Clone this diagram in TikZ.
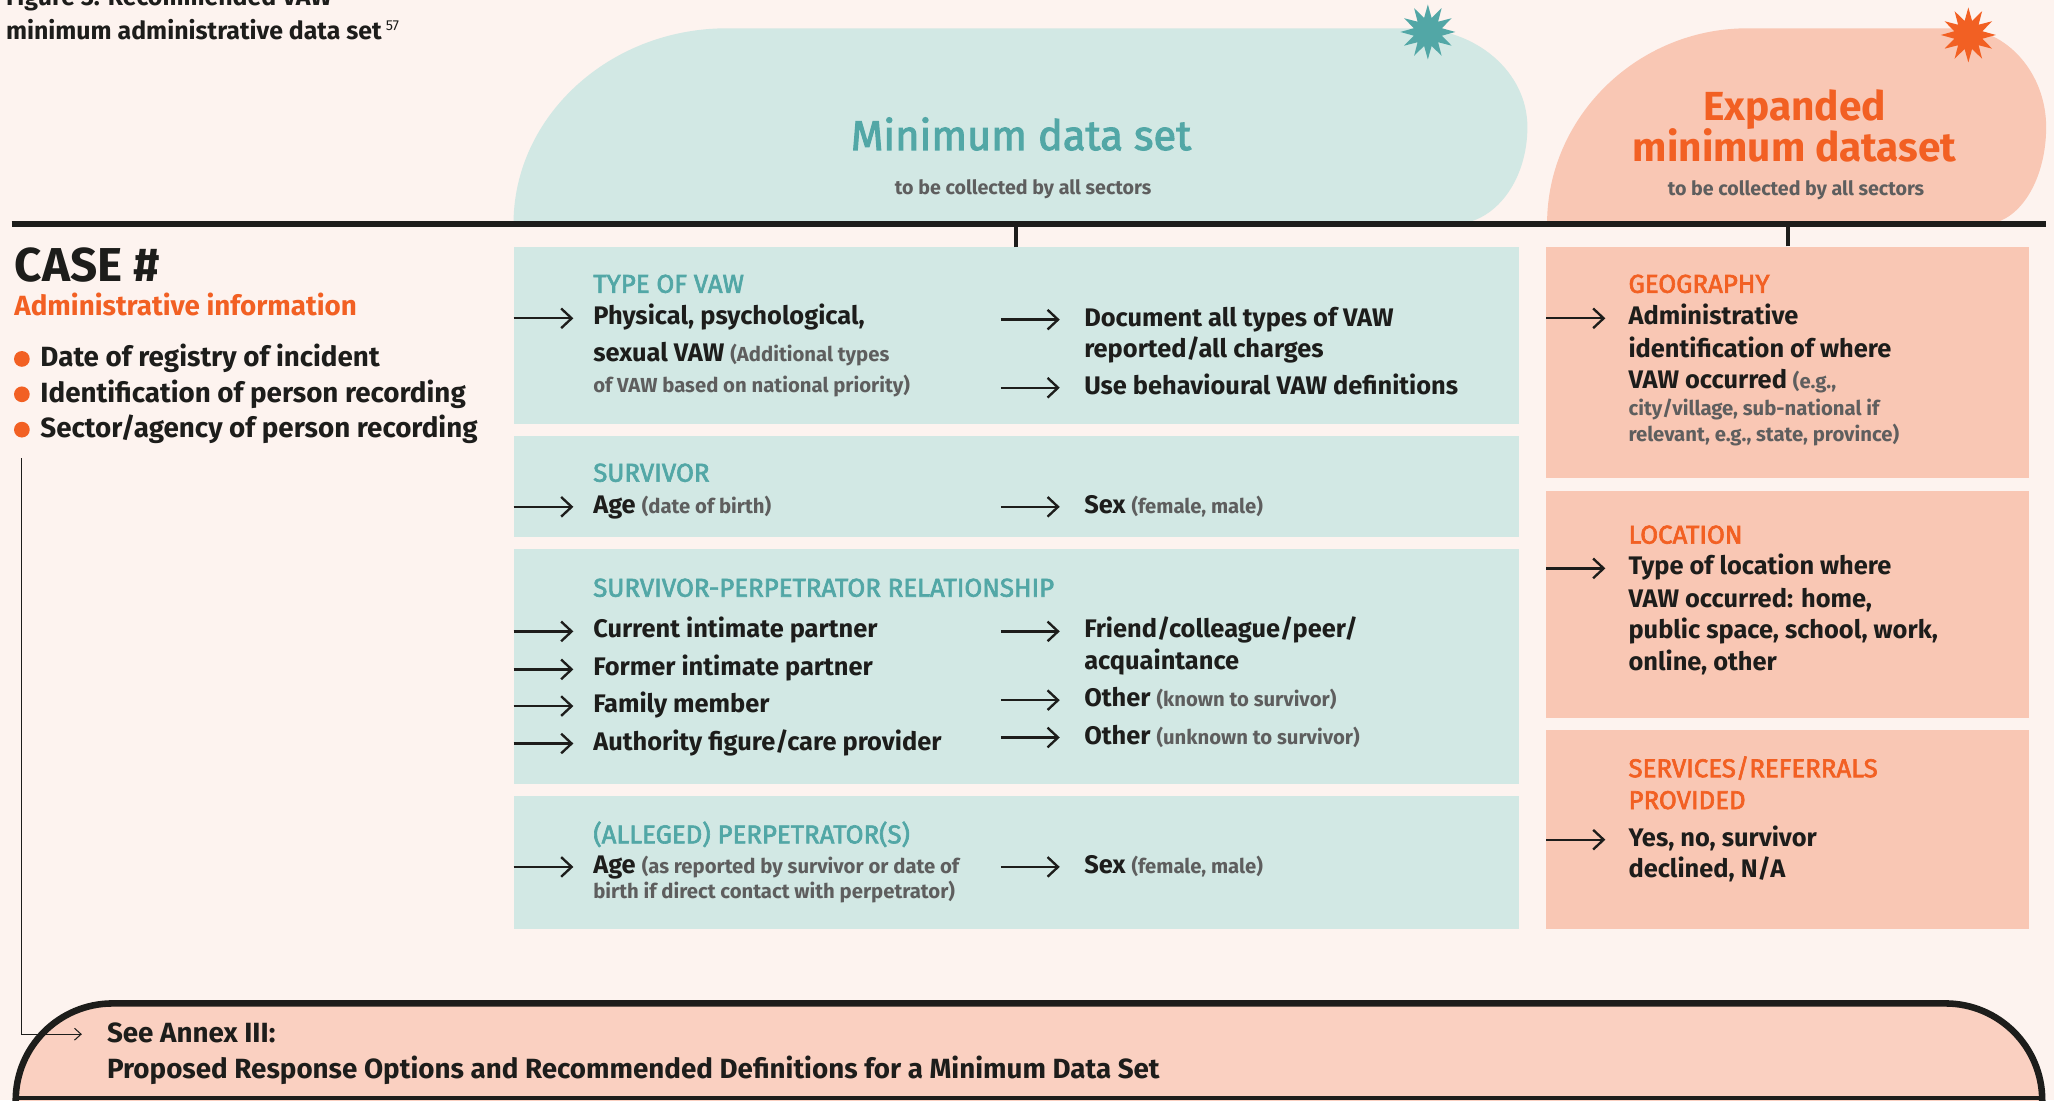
\documentclass[tikz,border=0pt]{standalone}
\usepackage{fontspec}
\setmainfont{Fira Sans}
\newfontfamily\headfont{Fira Sans}[FakeBold=2.5]
\usetikzlibrary{arrows.meta,shapes.geometric,positioning}

\definecolor{cream}{HTML}{FDF3EF}
\definecolor{tealpale}{HTML}{D2E8E4}
\definecolor{tealink}{HTML}{52A7A6}
\definecolor{salmon}{HTML}{F9C7B4}
\definecolor{annexpink}{HTML}{FAD0C1}
\definecolor{orangeink}{HTML}{F26023}
\definecolor{darkink}{HTML}{1D1D1B}
\definecolor{grayink}{HTML}{5E5E5E}

\newcommand{\aside}[1]{{\color{grayink}\fontsize{15.5}{18}\selectfont #1}}

\tikzstyle{every node}=[inner sep=0pt, anchor=base west, text=darkink]
\tikzstyle{item}=[font=\bfseries\fontsize{19.4}{23}\selectfont]
\tikzstyle{bigitem}=[font=\bfseries\fontsize{21.2}{25}\selectfont]
\tikzstyle{note}=[font=\bfseries\fontsize{15.5}{18}\selectfont, text=grayink]
\tikzstyle{tealhead}=[font=\headfont\fontsize{19.7}{23}\selectfont, text=tealink]
\tikzstyle{orangehead}=[font=\headfont\fontsize{19.7}{23}\selectfont, text=orangeink]
\tikzstyle{tealbox}=[fill=tealpale, anchor=north west, minimum width=767pt]
\tikzstyle{salmonbox}=[fill=salmon, anchor=north west, minimum width=368.7pt]
\tikzstyle{pointer}=[-{Straight Barb[length=8pt,width=15pt]}, line width=1.8pt, darkink]
\tikzstyle{thinpointer}=[-{Straight Barb[length=5pt,width=9pt]}, line width=0.8pt, darkink]
\tikzstyle{tick}=[line width=3pt, draw=darkink]
\tikzstyle{dot}=[circle, fill=orangeink, minimum size=12pt, anchor=center]
\tikzstyle{burst}=[star, star points=12, star point ratio=1.9, minimum size=42pt, anchor=center]

\begin{document}
\begin{tikzpicture}[x=1pt, y=-1pt]
\useasboundingbox (0,0) rectangle (1568,840);
\fill[cream] (0,0) rectangle (1568,840);

\fill[tealpale] (392,171) .. controls (392,89) and (465,21.6) .. (555,21.6) -- (1079,21.6)
  .. controls (1127,21.6) and (1166,55) .. (1166,97) .. controls (1166,138) and (1141,171) .. (1110,171) -- cycle;
\fill[salmon] (1181,171) .. controls (1181,89) and (1250,21.6) .. (1334,21.6) -- (1495,21.6)
  .. controls (1532,21.6) and (1562,56) .. (1562,97) .. controls (1562,138) and (1541,171) .. (1515,171) -- cycle;
\node[burst, fill=tealink] (tealstar) at (1090,24.4) {};
\node[burst, fill=orangeink] (orangestar) at (1502.6,26.7) {};

\node[item, font=\bfseries\fontsize{19}{23}\selectfont] (fig1) at (4.4,4.5) {Figure 3: Recommended VAW};
\node[item, font=\bfseries\fontsize{19}{23}\selectfont] (fig2) at (4.4,30.5) {minimum administrative data set\,{\mdseries\fontsize{11}{11}\selectfont\raisebox{7pt}{57}}};

\node[font=\headfont\fontsize{31.8}{34}\selectfont, text=tealink, anchor=base] (mds) at (779.5,114.5) {Minimum data set};
\node[note, font=\bfseries\fontsize{15}{18}\selectfont, anchor=base] (mdssub) at (781,148.4) {to be collected by all sectors};
\node[font=\bfseries\fontsize{31}{34}\selectfont, text=orangeink, anchor=base] (exp1) at (1370,92) {Expanded};
\node[font=\bfseries\fontsize{31}{34}\selectfont, text=orangeink, anchor=base] (exp2) at (1370,123.4) {minimum dataset};
\node[note, font=\bfseries\fontsize{15}{18}\selectfont, anchor=base] (expsub) at (1371,148.9) {to be collected by all sectors};

\coordinate (ruleL) at (8.8,171);
\coordinate (ruleR) at (1562,171);
\draw[line width=4.5pt, darkink] (ruleL) -- (ruleR);

\node[font=\bfseries\fontsize{36.3}{40}\selectfont] (case) at (11,215) {CASE \#};
\node[bigitem, text=orangeink] (admin) at (10.8,241) {Administrative information};
\node[bigitem] (bul1) at (30.7,280) {Date of registry of incident};
\node[bigitem] (bul2) at (30.7,307) {Identification of person recording};
\node[bigitem] (bul3) at (30.7,334) {Sector/agency of person recording};
\node[dot] (dot1) at (16.7,274) {};
\node[dot] (dot2) at (16.7,301) {};
\node[dot] (dot3) at (16.7,328) {};
\coordinate (caseleg) at (16.6,350);

\node[tealbox, minimum height=135.2pt] (typebox) at (392,188.6) {};
\node[tealbox, minimum height=76.8pt] (survbox) at (392,333) {};
\node[tealbox, minimum height=179.4pt] (relbox) at (392,418.6) {};
\node[tealbox, minimum height=101pt] (perpbox) at (392,607.7) {};
\node[salmonbox, minimum height=176.6pt] (geobox) at (1180.3,188) {};
\node[salmonbox, minimum height=173.1pt] (locbox) at (1180.3,374.9) {};
\node[salmonbox, minimum height=151.4pt] (servbox) at (1180.3,557.4) {};
\draw[tick] (typebox.north) -- (typebox.north |- ruleL);
\draw[tick] (geobox.north) -- (geobox.north |- ruleL);

\node[tealhead] (typehd) at (452.7,223.5) {TYPE OF VAW};
\node[item] (phys) at (452.7,248) {Physical, psychological,};
\node[item] (sexual) at (452.7,276) {sexual VAW \aside{(Additional types}};
\node[note] (natl) at (452.7,300) {of VAW based on national priority)};
\node[item] (docall) at (827.5,249) {Document all types of VAW};
\node[item] (charges) at (827.5,272.7) {reported/all charges};
\node[item] (behav) at (827.5,301) {Use behavioural VAW definitions};

\node[tealhead] (survhd) at (452.7,367.7) {SURVIVOR};
\node[item] (survage) at (452.7,391.9) {Age \aside{(date of birth)}};
\node[item] (survsex) at (827.5,391.9) {Sex \aside{(female, male)}};

\node[tealhead] (relhd) at (452.7,455.5) {SURVIVOR-PERPETRATOR RELATIONSHIP};
\node[item] (current) at (452.7,487) {Current intimate partner};
\node[item] (former) at (452.7,516) {Former intimate partner};
\node[item] (family) at (452.7,544) {Family member};
\node[item] (authority) at (452.7,572.6) {Authority figure/care provider};
\node[item] (friend) at (827.5,487) {Friend/colleague/peer/};
\node[item] (acq) at (827.5,511) {acquaintance};
\node[item] (known) at (827.5,539.5) {Other \aside{(known to survivor)}};
\node[item] (unknown) at (827.5,568) {Other \aside{(unknown to survivor)}};

\node[tealhead] (perphd) at (452.7,643.8) {(ALLEGED) PERPETRATOR(S)};
\node[item] (perpage) at (452.7,666.8) {Age \aside{(as reported by survivor or date of}};
\node[note] (perpbirth) at (452.7,685.8) {birth if direct contact with perpetrator)};
\node[item] (perpsex) at (827.5,666.8) {Sex \aside{(female, male)}};

\node[orangehead] (geohd) at (1243,223.5) {GEOGRAPHY};
\node[item] (geo1) at (1243,248) {Administrative};
\node[item] (geo2) at (1243,272.6) {identification of where};
\node[item] (geo3) at (1243,296.8) {VAW occurred \aside{(e.g.,}};
\node[note] (geo4) at (1243,317) {city/village, sub-national if};
\node[note] (geo5) at (1243,336.7) {relevant, e.g., state, province)};

\node[orangehead] (lochd) at (1243,415) {LOCATION};
\node[item] (loc1) at (1243,438.9) {Type of location where};
\node[item] (loc2) at (1243,463.5) {VAW occurred: home,};
\node[item] (loc3) at (1243,487.6) {public space, school, work,};
\node[item] (loc4) at (1243,512) {online, other};

\node[orangehead] (servhd1) at (1243,593.3) {SERVICES/REFERRALS};
\node[orangehead] (servhd2) at (1243,617.6) {PROVIDED};
\node[item] (serv1) at (1243,646) {Yes, no, survivor};
\node[item] (serv2) at (1243,670) {declined, N/A};

\path [pointer]
    ([xshift=-60.7pt,yshift=5pt]phys.base west) edge ([xshift=-15pt,yshift=5pt]phys.base west)
    ([xshift=-63.5pt,yshift=5pt]docall.base west) edge ([xshift=-18.5pt,yshift=5pt]docall.base west)
    ([xshift=-63.5pt,yshift=5pt]behav.base west) edge ([xshift=-18.5pt,yshift=5pt]behav.base west)
    ([xshift=-60.7pt,yshift=5pt]survage.base west) edge ([xshift=-15pt,yshift=5pt]survage.base west)
    ([xshift=-63.5pt,yshift=5pt]survsex.base west) edge ([xshift=-18.5pt,yshift=5pt]survsex.base west)
    ([xshift=-60.7pt,yshift=5pt]current.base west) edge ([xshift=-15pt,yshift=5pt]current.base west)
    ([xshift=-60.7pt,yshift=5pt]former.base west) edge ([xshift=-15pt,yshift=5pt]former.base west)
    ([xshift=-60.7pt,yshift=5pt]family.base west) edge ([xshift=-15pt,yshift=5pt]family.base west)
    ([xshift=-60.7pt,yshift=5pt]authority.base west) edge ([xshift=-15pt,yshift=5pt]authority.base west)
    ([xshift=-63.5pt,yshift=5pt]friend.base west) edge ([xshift=-18.5pt,yshift=5pt]friend.base west)
    ([xshift=-63.5pt,yshift=5pt]known.base west) edge ([xshift=-18.5pt,yshift=5pt]known.base west)
    ([xshift=-63.5pt,yshift=5pt]unknown.base west) edge ([xshift=-18.5pt,yshift=5pt]unknown.base west)
    ([xshift=-60.7pt,yshift=5pt]perpage.base west) edge ([xshift=-15pt,yshift=5pt]perpage.base west)
    ([xshift=-63.5pt,yshift=5pt]perpsex.base west) edge ([xshift=-18.5pt,yshift=5pt]perpsex.base west)
    ([xshift=-62.7pt,yshift=5pt]geo1.base west) edge ([xshift=-17.5pt,yshift=5pt]geo1.base west)
    ([xshift=-62.7pt,yshift=5pt]loc1.base west) edge ([xshift=-17.5pt,yshift=5pt]loc1.base west)
    ([xshift=-62.7pt,yshift=5pt]serv1.base west) edge ([xshift=-17.5pt,yshift=5pt]serv1.base west);

\draw[line width=5pt, draw=darkink, fill=annexpink, rounded corners=74pt] (12,860) -- (12,766) -- (1559,766) -- (1559,860);
\draw[line width=3pt, darkink] (12,838.5) -- (1559,838.5);
\node[bigitem] (annex1) at (81.5,795.5) {See Annex III:};
\node[bigitem] (annex2) at (81.5,823) {Proposed Response Options and Recommended Definitions for a Minimum Data Set};
\draw[thinpointer] (caseleg) |- ([xshift=-19pt,yshift=6pt]annex1.base west);

\end{tikzpicture}
\end{document}
